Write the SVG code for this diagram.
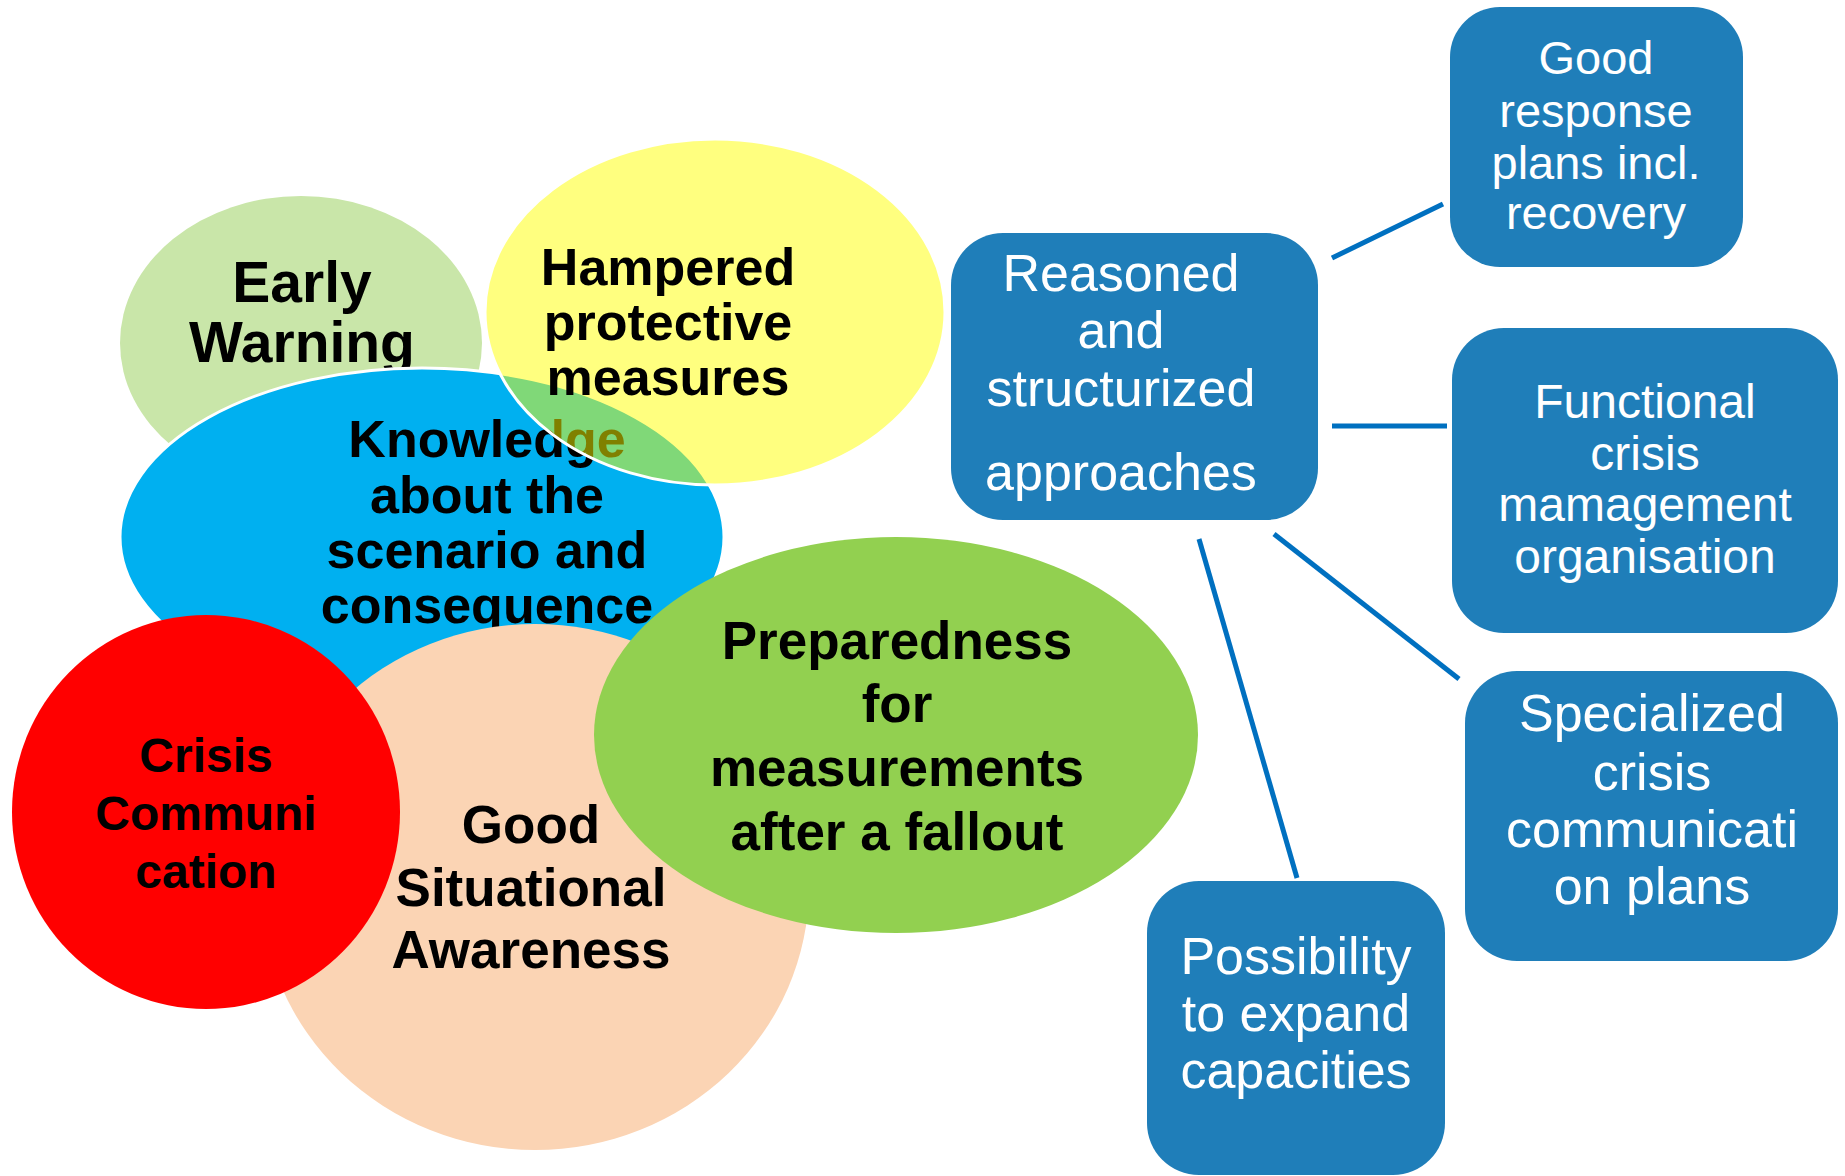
<svg xmlns="http://www.w3.org/2000/svg" width="1845" height="1176" viewBox="0 0 1845 1176">
  <style>
    .bubble-text { font-family: "Liberation Sans", Arial, sans-serif; font-weight: bold; fill: #000000; text-anchor: middle; }
    .box { fill: #1F7EB9; }
    .box-text { font-family: "Liberation Sans", Arial, sans-serif; fill: #FFFFFF; text-anchor: middle; }
    .link { stroke: #0070C0; stroke-width: 5; fill: none; }
  </style>
  <rect width="1845" height="1176" fill="#FFFFFF"/>

  <!-- overlapping bubbles -->
  <g id="early-warning">
    <ellipse cx="301" cy="343" rx="181" ry="147" fill="#C9E6A9"/>
    <text class="bubble-text" font-size="57"><tspan x="302" y="302">Early</tspan><tspan x="302" y="362">Warning</tspan></text>
  </g>

  <g id="knowledge">
    <ellipse cx="422" cy="537" rx="302" ry="169" fill="#00B0F0" stroke="#FFFFFF" stroke-width="3"/>
    <text class="bubble-text" font-size="52"><tspan x="487" y="457">Knowledge</tspan><tspan x="487" y="513">about the</tspan><tspan x="487" y="568">scenario and</tspan><tspan x="487" y="623">consequence</tspan></text>
  </g>

  <g id="hampered">
    <ellipse cx="715" cy="312" rx="230" ry="173" fill="#FFFF00" fill-opacity="0.5" stroke="#FFFFFF" stroke-width="3"/>
    <text class="bubble-text" font-size="52"><tspan x="668" y="285">Hampered</tspan><tspan x="668" y="340">protective</tspan><tspan x="668" y="395">measures</tspan></text>
  </g>

  <g id="situational-awareness">
    <ellipse cx="535" cy="887" rx="274" ry="263" fill="#FBD4B4"/>
    <text class="bubble-text" font-size="53"><tspan x="531" y="843">Good</tspan><tspan x="531" y="906">Situational</tspan><tspan x="531" y="968">Awareness</tspan></text>
  </g>

  <g id="crisis-communication">
    <ellipse cx="206" cy="812" rx="194" ry="197" fill="#FF0000"/>
    <text class="bubble-text" font-size="48"><tspan x="206" y="772">Crisis</tspan><tspan x="206" y="830">Communi</tspan><tspan x="206" y="888">cation</tspan></text>
  </g>

  <g id="preparedness">
    <ellipse cx="896" cy="735" rx="302" ry="198" fill="#92D050"/>
    <text class="bubble-text" font-size="53"><tspan x="897" y="659">Preparedness</tspan><tspan x="897" y="722">for</tspan><tspan x="897" y="786">measurements</tspan><tspan x="897" y="850">after a fallout</tspan></text>
  </g>

  <!-- connectors from the central approach box -->
  <g id="connectors">
    <line class="link" x1="1332" y1="258" x2="1443" y2="204"/>
    <line class="link" x1="1332" y1="426" x2="1447" y2="426"/>
    <line class="link" x1="1274" y1="534" x2="1459" y2="679"/>
    <line class="link" x1="1199" y1="539" x2="1297" y2="878"/>
  </g>

  <!-- rounded boxes -->
  <g id="reasoned-approaches">
    <rect class="box" x="951" y="233" width="367" height="287" rx="52" ry="52"/>
    <text class="box-text" font-size="52"><tspan x="1121" y="291">Reasoned</tspan><tspan x="1121" y="348">and</tspan><tspan x="1121" y="406">structurized</tspan><tspan x="1121" y="490">approaches</tspan></text>
  </g>

  <g id="response-plans">
    <rect class="box" x="1450" y="7" width="293" height="260" rx="50" ry="50"/>
    <text class="box-text" font-size="47"><tspan x="1596" y="74">Good</tspan><tspan x="1596" y="127">response</tspan><tspan x="1596" y="179">plans incl.</tspan><tspan x="1596" y="229">recovery</tspan></text>
  </g>

  <g id="crisis-organisation">
    <rect class="box" x="1452" y="328" width="386" height="305" rx="52" ry="52"/>
    <text class="box-text" font-size="48"><tspan x="1645" y="418">Functional</tspan><tspan x="1645" y="470">crisis</tspan><tspan x="1645" y="521">mamagement</tspan><tspan x="1645" y="573">organisation</tspan></text>
  </g>

  <g id="communication-plans">
    <rect class="box" x="1465" y="671" width="373" height="290" rx="52" ry="52"/>
    <text class="box-text" font-size="52"><tspan x="1652" y="731">Specialized</tspan><tspan x="1652" y="790">crisis</tspan><tspan x="1652" y="847">communicati</tspan><tspan x="1652" y="904">on plans</tspan></text>
  </g>

  <g id="expand-capacities">
    <rect class="box" x="1147" y="881" width="298" height="294" rx="52" ry="52"/>
    <text class="box-text" font-size="52"><tspan x="1296" y="974">Possibility</tspan><tspan x="1296" y="1031">to expand</tspan><tspan x="1296" y="1088">capacities</tspan></text>
  </g>
</svg>
